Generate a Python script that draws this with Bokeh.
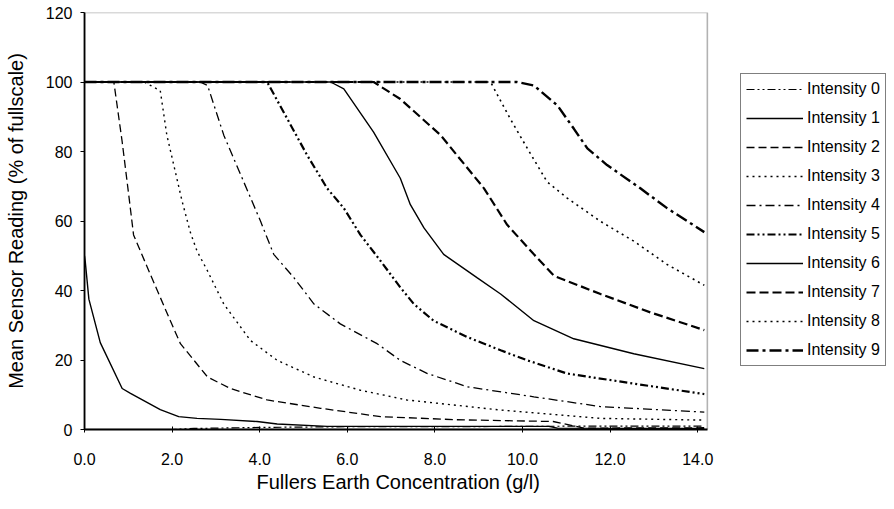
from bokeh.plotting import figure
from bokeh.models import (Legend, LegendItem, SingleIntervalTicker, PrintfTickFormatter, Range1d,
                          BoxAnnotation, Title)
from bokeh.embed import file_html
from bokeh.resources import INLINE

# ---- data ----
int0_x = [0, 2.0, 2.5, 4.0, 6.0, 8.0, 10.0, 12.0, 14.15]
int0_y = [0, 0, 0.3, 0.6, 0.8, 0.8, 0.9, 1.0, 1.0]

int1_x = [0, 0.02, 0.1, 0.36, 0.86, 1.05, 1.73, 2.15, 2.57, 3.11, 3.94, 4.40, 5.54, 8.0, 10.6, 10.8, 14.15]
int1_y = [50, 48, 37.5, 25, 11.8, 10.4, 5.7, 3.7, 3.2, 2.9, 2.3, 1.6, 0.9, 0.9, 0.9, 0.4, 0.3]

int2_x = [0, 0.67, 0.86, 1.01, 1.12, 1.47, 1.96, 2.19, 2.81, 3.33, 4.17, 5.39, 6.76, 7.36, 8.5, 10.7, 11.4, 14.15]
int2_y = [100, 100, 82.8, 67.5, 56, 45.6, 31.3, 24.7, 15.1, 11.8, 8.5, 6.1, 3.7, 3.4, 2.8, 2.3, 0.4, 0.5]

int3_x = [0, 1.36, 1.73, 1.88, 2.04, 2.23, 2.42, 2.57, 2.81, 3.18, 3.79, 4.40, 5.24, 6.30, 7.36, 9.50, 11.78, 14.15]
int3_y = [100, 100, 97.5, 84.7, 76, 65.6, 56.6, 51.3, 45.6, 36.1, 25.6, 19.9, 15.1, 11.3, 8.5, 5.6, 3.2, 2.7]

int4_x = [0, 2.64, 2.81, 3.18, 3.57, 4.02, 4.32, 4.78, 5.24, 5.84, 6.68, 7.21, 7.83, 8.74, 10.26, 11.78, 14.15]
int4_y = [100, 100, 99, 84.7, 73.2, 59.9, 50.4, 43.7, 36.1, 30.4, 24.7, 19.9, 16.1, 12.3, 9.4, 6.6, 5.0]

int5_x = [0, 4.17, 4.63, 5.08, 5.54, 5.92, 6.30, 6.76, 7.21, 7.52, 7.97, 8.74, 9.50, 10.11, 11.02, 12.54, 14.15]
int5_y = [100, 100, 89.4, 79, 69.4, 63.7, 56, 48.5, 40.9, 36.1, 31.3, 26.6, 22.8, 19.9, 16.1, 13.2, 10.2]

int6_x = [0, 5.62, 5.92, 6.60, 7.21, 7.44, 7.75, 8.20, 8.96, 9.50, 10.26, 11.17, 12.54, 14.15]
int6_y = [100, 100, 98, 85.6, 72.3, 64.7, 58, 50.4, 43.7, 39, 31.3, 26.1, 21.8, 17.5]

int7_x = [0, 6.60, 7.21, 8.13, 9.12, 9.65, 10.26, 10.72, 11.78, 12.92, 14.15]
int7_y = [100, 100, 95.1, 84.7, 69.4, 58.9, 50.4, 44.2, 39, 33.7, 28.6]

int8_x = [0, 9.27, 9.72, 10.11, 10.56, 11.02, 11.78, 12.54, 13.30, 14.15]
int8_y = [100, 100, 89.4, 80.9, 71.3, 66.6, 59.9, 54.2, 47.5, 41.5]

int9_x = [0, 9.87, 10.26, 10.80, 11.17, 11.48, 11.93, 12.69, 13.30, 14.15]
int9_y = [100, 100, 99, 93.2, 86.6, 80.9, 76.1, 69.4, 63.7, 56.8]

series_names = ["Intensity 0", "Intensity 1", "Intensity 2", "Intensity 3", "Intensity 4",
                "Intensity 5", "Intensity 6", "Intensity 7", "Intensity 8", "Intensity 9"]
series_x = [int0_x, int1_x, int2_x, int3_x, int4_x, int5_x, int6_x, int7_x, int8_x, int9_x]
series_y = [int0_y, int1_y, int2_y, int3_y, int4_y, int5_y, int6_y, int7_y, int8_y, int9_y]

x_max = 14.22
y_max = 120

x_label = "Fullers Earth Concentration (g/l)"
y_label = "Mean Sensor Reading (% of fullscale)"

# ---- styles ----
styles = [
    ("8 3 2 3 2 3", 1.2),
    ("solid", 1.4),
    ("8 4", 1.3),
    ("2 4", 1.4),
    ("9 4 2 4", 1.3),
    ("8 3 2 3 2 3", 2.2),
    ("solid", 1.4),
    ("9 4", 2.2),
    ("2 4", 1.6),
    ("12 4 3 4", 2.4),
]

FONT = "Liberation Sans"

# the frame extends to the right edge so the legend can sit beside the plot box
p = figure(width=886, height=493, output_backend="svg", toolbar_location=None,
           x_range=Range1d(0, 18.31), y_range=Range1d(0, y_max),
           min_border_left=84, min_border_right=0, min_border_top=12, min_border_bottom=62)

items = []
for name, xs, ys, (dash, w) in zip(series_names, series_x, series_y, styles):
    r = p.line(xs, ys, line_color="black", line_width=w, line_dash=dash)
    items.append(LegendItem(label=name, renderers=[r]))

p.xgrid.visible = False
p.ygrid.visible = False
p.outline_line_color = None

# plot box
p.add_layout(BoxAnnotation(left=0, right=x_max, bottom=0, top=y_max,
                           fill_alpha=0, line_color="black", line_width=1.6))

p.xaxis.ticker = SingleIntervalTicker(interval=2)
p.xaxis.formatter = PrintfTickFormatter(format="%.1f")
p.xaxis.bounds = (0, x_max)
p.yaxis.ticker = SingleIntervalTicker(interval=20)

for ax in (p.xaxis[0], p.yaxis[0]):
    ax.axis_line_color = "black"
    ax.axis_line_width = 1.8
    ax.major_tick_line_color = "black"
    ax.minor_tick_line_color = None
    ax.major_label_text_font = FONT
    ax.major_label_text_font_size = "16px"
    ax.major_label_text_color = "black"
    ax.axis_label_text_font = FONT
    ax.axis_label_text_font_size = "20px"
    ax.axis_label_text_font_style = "normal"
    ax.axis_label_text_color = "black"

p.yaxis.axis_label = y_label
p.xaxis.major_tick_in = 3
p.xaxis.major_tick_out = 3
p.xaxis.major_label_standoff = 19
p.yaxis.major_tick_in = 0
p.yaxis.major_tick_out = 4
p.yaxis.major_label_standoff = 8
p.yaxis.axis_label_standoff = 16

# x-axis title centred under the plot box (not under the whole frame)
x_title = Title(text=x_label, align="left", offset=172, standoff=2,
                text_font=FONT, text_font_size="20px", text_font_style="normal",
                text_color="black")
p.add_layout(x_title, "below")

legend = Legend(items=items, location=(656, 63))
legend.border_line_color = "black"
legend.border_line_width = 1.5
legend.background_fill_alpha = 1
legend.label_text_font = FONT
legend.label_text_font_size = "16px"
legend.label_text_color = "black"
legend.glyph_width = 57
legend.glyph_height = 20
legend.label_height = 20
legend.label_standoff = 4
legend.spacing = 9
legend.padding = 5
legend.margin = 0
p.add_layout(legend, "center")

open("out.html", "w").write(file_html(p, INLINE))
